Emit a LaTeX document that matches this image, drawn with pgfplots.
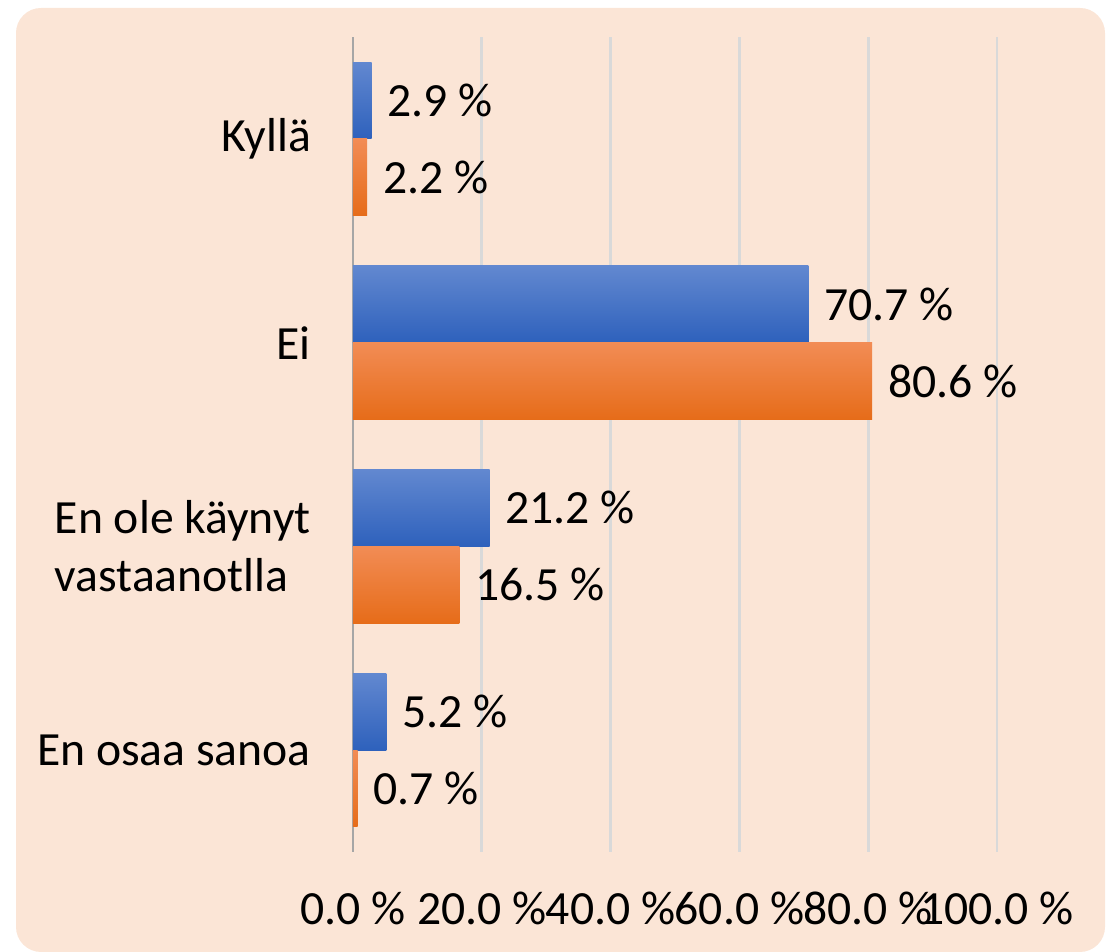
\documentclass[border=0pt]{standalone}
\usepackage{fontspec}
\setmainfont{Carlito}
\usepackage{pgfplots}
\pgfplotsset{compat=1.18}
\definecolor{bgcol}{HTML}{FBE5D6}
\definecolor{gridcol}{HTML}{D9D9D9}
\definecolor{axcol}{HTML}{A6A6A6}
\definecolor{bluetop}{HTML}{6288D0}
\definecolor{bluemid}{HTML}{4070C8}
\definecolor{bluebot}{HTML}{2E61BC}
\definecolor{orgtop}{HTML}{F28C55}
\definecolor{orgmid}{HTML}{F57C2A}
\definecolor{orgbot}{HTML}{E66C19}
\newcommand{\lblfont}{\fontsize{14.3}{17.4}\selectfont}
\pgfplotsset{
  bluebar/.style={xbar, bar shift=-0.1887, draw=none,
    top color=bluetop, middle color=bluemid, bottom color=bluebot,
    nodes near coords style={yshift=11.55pt}},
  orgbar/.style={xbar, bar shift=0.1887, draw=none,
    top color=orgtop, middle color=orgmid, bottom color=orgbot,
    nodes near coords style={yshift=-11.55pt}},
}
\begin{document}
\begin{tikzpicture}
% picture is 1109 x 952 px, 1 px = 0.3pt
\useasboundingbox (0pt,0pt) rectangle (332.7pt,285.6pt);
\fill[bgcol, rounded corners=7.5pt] (4.8pt,0pt) rectangle (331.5pt,283.2pt);
\begin{axis}[
  at={(105.9pt,30pt)}, anchor=south west,
  scale only axis, width=193.2pt, height=244.5pt,
  xmin=0, xmax=100, ymin=-0.5, ymax=3.5, y dir=reverse,
  xtick={0,20,40,60,80,100}, ytick={0,1,2,3},
  yticklabels={Kyllä, Ei, {En ole käynyt\\vastaanotlla}, En osaa sanoa},
  xticklabel={\pgfmathprintnumber[fixed,fixed zerofill,precision=1]{\tick}~\%},
  /pgf/number format/assume math mode=true,
  axis lines*=left, x axis line style={draw=none}, y axis line style={draw=axcol, line width=0.8pt},
  major tick length=0pt,
  xmajorgrids, grid style={gridcol, line width=0.8pt},
  tick label style={font=\lblfont, text=black},
  xticklabel style={yshift=-8.5pt},
  yticklabel style={align=left, xshift=-9.1pt},
  point meta=x,
  nodes near coords={\pgfmathprintnumber[fixed,fixed zerofill,precision=1]{\pgfplotspointmeta}~\%},
  nodes near coords style={font=\lblfont, text=black, anchor=west, xshift=1.3pt},
  bar width=0.377, clip=false,
]
% series 1 (blue)
\addplot[bluebar] coordinates {(2.9,0)};
\addplot[bluebar] coordinates {(70.7,1)};
\addplot[bluebar] coordinates {(21.2,2)};
\addplot[bluebar] coordinates {(5.2,3)};
% series 2 (orange)
\addplot[orgbar] coordinates {(2.2,0)};
\addplot[orgbar] coordinates {(80.6,1)};
\addplot[orgbar] coordinates {(16.5,2)};
\addplot[orgbar] coordinates {(0.7,3)};
\end{axis}
\end{tikzpicture}
\end{document}
